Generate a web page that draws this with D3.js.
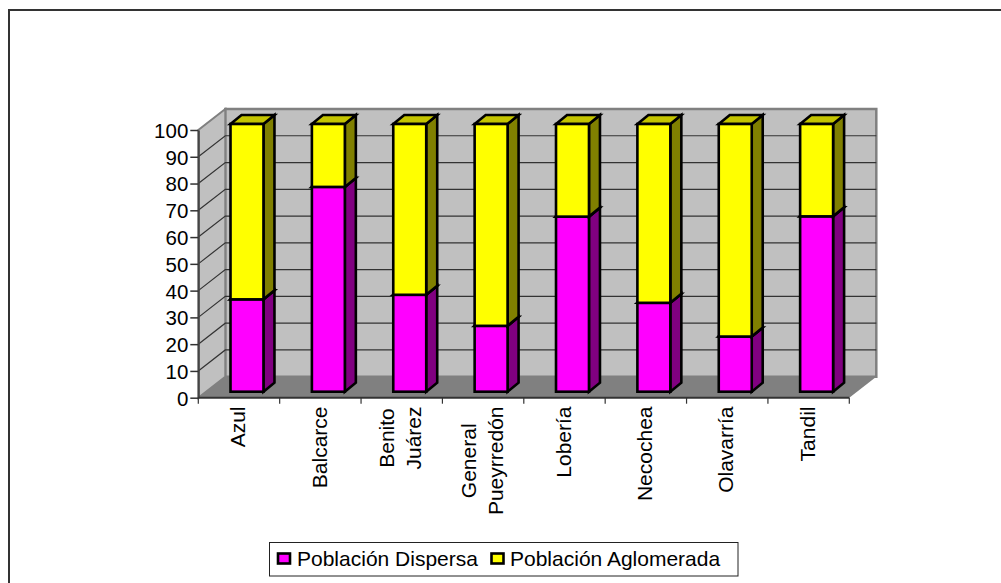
<!DOCTYPE html>
<html>
<head>
<meta charset="utf-8">
<script src="https://cdn.jsdelivr.net/npm/d3@7"></script>
<style>
    html, body { margin: 0; padding: 0; background: #fff; }
    svg { display: block; }
    text { font-family: "Liberation Sans", Arial, sans-serif; fill: #000; }
</style>
</head>
<body>
<div id="svg"></div>
<script>
// categories, one entry per line of the rotated label
var categories = [["Azul"], ["Balcarce"], ["Benito", "Juárez"], ["General", "Pueyrredón"],
    ["Lobería"], ["Necochea"], ["Olavarría"], ["Tandil"]];
var seriesNames = ["Población Dispersa", "Población Aglomerada"];
var dispersa = [34.5, 76.5, 36.2, 24.6, 65.4, 33.2, 20.6, 65.5];
var aglomerada = [65.5, 23.5, 63.8, 75.4, 34.6, 66.8, 79.4, 34.5];
var yTicks = [0, 10, 20, 30, 40, 50, 60, 70, 80, 90, 100];

var width = 1001,
    height = 583;

var frontColor = ["#ff00ff", "#ffff00"];
var sideColor = ["#800080", "#808000"];
var topColor = ["#c000c0", "#c4c400"];

// depth of the 3d box, and of the bars inside it
var wallDx = 27, wallDy = -21;
var barDx = 11, barDy = -9;
var barOffX = 8, barOffY = -6;

var svg = d3.select("#svg").append("svg")
    .attr("width", width)
    .attr("height", height);

// outer frame, only top and left show
svg.append("path")
    .attr("d", "M9,583V10H1001")
    .attr("fill", "none")
    .attr("stroke", "#333")
    .attr("stroke-width", 2);

var names = categories.map(function (d) { return d.join(" "); });

var x = d3.scaleBand()
    .domain(names)
    .range([198.3, 849.3])
    .paddingInner(0.595)
    .paddingOuter(0.2975);

var y = d3.scaleLinear()
    .domain([0, 100])
    .range([397.7, 130]);

var x0 = x.range()[0], x1 = x.range()[1];

function poly(points) {
    return "M" + points.map(function (p) { return p.join(","); }).join("L") + "Z";
}

// walls and floor
svg.append("path")
    .attr("d", poly([[x0 + wallDx, y(100) + wallDy], [x1 + wallDx, y(100) + wallDy],
        [x1 + wallDx, y(0) + wallDy], [x0 + wallDx, y(0) + wallDy]]))
    .attr("fill", "#c0c0c0")
    .attr("stroke", "#808080")
    .attr("stroke-width", 2.5);

svg.append("path")
    .attr("d", poly([[x0, y(100)], [x0 + wallDx, y(100) + wallDy],
        [x0 + wallDx, y(0) + wallDy], [x0, y(0)]]))
    .attr("fill", "#c0c0c0")
    .attr("stroke", "#808080")
    .attr("stroke-width", 2);

svg.append("path")
    .attr("d", poly([[x0, y(0)], [x0 + wallDx, y(0) + wallDy],
        [x1 + wallDx, y(0) + wallDy], [x1, y(0)]]))
    .attr("fill", "#808080");

// gridlines on the left and back walls
var grid = svg.append("g")
    .attr("fill", "none")
    .attr("stroke", "#333")
    .attr("stroke-width", 1.2);

grid.selectAll("path")
    .data(yTicks.filter(function (d) { return d > 0 && d < 100; }))
    .enter().append("path")
    .attr("d", function (d) {
        return "M" + x0 + "," + y(d) + "L" + (x0 + wallDx) + "," + (y(d) + wallDy) + "H" + (x1 + wallDx);
    });

// axes
var yAxis = svg.append("g")
    .attr("transform", "translate(" + x0 + ",0)")
    .call(d3.axisLeft(y).tickValues(yTicks).tickSize(8).tickPadding(2).tickSizeOuter(0));
yAxis.selectAll("text").style("font-size", "20.5px").attr("dy", "0.36em");
yAxis.selectAll("line").attr("stroke", "#333").attr("stroke-width", 1.5);
yAxis.select(".domain").attr("stroke", "#444").attr("stroke-width", 2);

svg.append("line")
    .attr("x1", x0).attr("x2", x1)
    .attr("y1", y(0)).attr("y2", y(0))
    .attr("stroke", "#333")
    .attr("stroke-width", 2);

// category ticks sit between the bands
svg.append("g").selectAll("line")
    .data(d3.range(names.length + 1))
    .enter().append("line")
    .attr("x1", function (i) { return x0 + i * x.step(); })
    .attr("x2", function (i) { return x0 + i * x.step(); })
    .attr("y1", y(0))
    .attr("y2", y(0) + 6)
    .attr("stroke", "#333")
    .attr("stroke-width", 1.2);

// bars
var rows = names.map(function (n, i) { return { name: n, 0: dispersa[i], 1: aglomerada[i] }; });
var stacked = d3.stack().keys([0, 1])(rows);

var series = svg.selectAll(".series")
    .data(stacked)
    .enter().append("g")
    .attr("class", "series")
    .attr("stroke", "#000")
    .attr("stroke-width", 2.6)
    .attr("stroke-linejoin", "miter");

// draw each stack bottom up so the upper segment covers the lower joint
series.each(function (s, si) {
    var sel = d3.select(this).selectAll("g")
        .data(s)
        .enter().append("g");

    function left(d) { return x(d.data.name) + barOffX; }
    function right(d) { return left(d) + x.bandwidth(); }
    function bottom(d) { return y(d[0]) + barOffY; }
    function top(d) { return y(d[1]) + barOffY; }

    sel.append("path")
        .attr("fill", sideColor[si])
        .attr("d", function (d) {
            return poly([[right(d), top(d)], [right(d) + barDx, top(d) + barDy],
                [right(d) + barDx, bottom(d) + barDy], [right(d), bottom(d)]]);
        });
    sel.append("path")
        .attr("fill", topColor[si])
        .attr("d", function (d) {
            return poly([[left(d), top(d)], [left(d) + barDx, top(d) + barDy],
                [right(d) + barDx, top(d) + barDy], [right(d), top(d)]]);
        });
    sel.append("rect")
        .attr("fill", frontColor[si])
        .attr("x", left)
        .attr("y", top)
        .attr("width", x.bandwidth())
        .attr("height", function (d) { return bottom(d) - top(d); });
});

// rotated category labels, lines centred on each other
var labelTop = 406.5, lineGap = 27;
var labels = svg.append("g").selectAll("g")
    .data(categories)
    .enter().append("g");

labels.each(function (lines, i) {
    var cx = x0 + (i + 0.5) * x.step();
    var g = d3.select(this);
    var texts = g.selectAll("text")
        .data(lines)
        .enter().append("text")
        .style("font-size", "21px")
        .attr("text-anchor", "middle")
        .text(function (d) { return d; });
    var longest = d3.max(texts.nodes(), function (n) { return n.getComputedTextLength(); });
    texts.attr("transform", function (d, k) {
        var bx = cx + 6.2 + (k - (lines.length - 1) / 2) * lineGap;
        return "translate(" + bx + "," + (labelTop + longest / 2) + ") rotate(-90)";
    });
});

// legend
svg.append("rect")
    .attr("x", 269.5).attr("y", 542.5)
    .attr("width", 468.5).attr("height", 33.5)
    .attr("fill", "#fff")
    .attr("stroke", "#222")
    .attr("stroke-width", 1);

legend(278, 297, seriesNames[0], frontColor[0]);
legend(491.5, 510, seriesNames[1], frontColor[1]);

function legend(bx, tx, text, color) {
    svg.append("rect")
        .attr("x", bx).attr("y", 553.5)
        .attr("width", 12).attr("height", 10)
        .attr("fill", color)
        .attr("stroke", "#000")
        .attr("stroke-width", 2.6);
    svg.append("text")
        .attr("x", tx)
        .attr("y", 566)
        .style("font-size", "21px")
        .text(text);
}
</script>
</body>
</html>
